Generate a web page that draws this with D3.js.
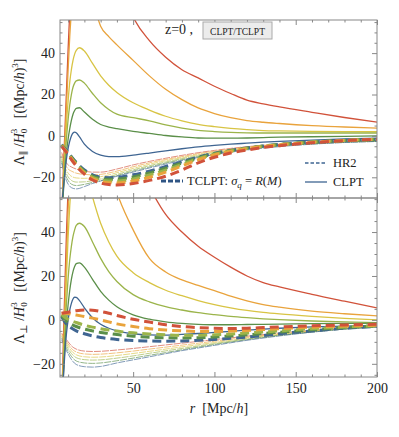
<!DOCTYPE html>
<html>
<head>
<meta charset="utf-8">
<script src="https://cdn.jsdelivr.net/npm/d3@7"></script>
<style>
  body { margin: 0; background: #fff; }
  text { font-family: "Liberation Serif", "DejaVu Serif", serif; fill: #222; }
</style>
</head>
<body>
<div id="chart"></div>
<script>
'use strict';

// mass bins, from lowest (red) to highest bias (blue)
const binColors = ["#d1523a", "#e9a33c", "#d8c444", "#9bb44a", "#5b8f49", "#3f6592"];
const tclptBins = [0, 1, 3, 4, 5];

// r grids [Mpc/h]
const rCLPT  = [5,6,7,8,9,10,11,12,13,14,15,17,20,25,30,35,40,50,60,70,80,90,100,110,120,130,140,160,180,200];
const rHR2   = [6,8,10,12,15,20,25,30,40,50,60,70,80,90,100,120,140,160,180,200];
const rTCLPT = [6,8,10,12,15,20,25,30,35,40,50,60,70,80,90,100,110,120,130,140,160,180,200];

// Lambda_parallel / H0^3, CLPT (solid)
const parCLPT = [
  [-60,-40,-18,2,22,42,60,76,90,101,110,120,126,122,110,94,80,57.5,46,38,32,28,24,20.5,17.3,15.5,14,11.4,8.9,6.7],
  [-60,-42,-22,-3,15,32,48,60,69,76,81,84,80,66,53,48,44,36.5,29,22.5,17.5,13.5,10.8,8.8,7.4,6.6,6,5,4.3,3.8],
  [-55,-42,-25,-8,6,17,26,32,36.5,39.5,41.3,42.6,41,35,29,24.5,21,16,12.5,9.5,7.3,5.6,4.5,3.6,3,2.6,2.4,2.2,2.1,2],
  [-50,-40,-26,-12,-1,8,15,20,23.5,25.5,26.6,27,25.5,20.5,16,12.8,10.5,8.8,7.3,5.3,3.8,2.7,2.1,1.7,1.5,1.4,1.4,1.4,1.4,1.4],
  [-45,-38,-28,-17,-8,-1.5,3.5,7.5,10.5,12.3,13.3,13.6,11.5,8,5.5,4.3,3.5,2.2,1.2,0.2,-0.5,-1,-1.1,-1.1,-1,-0.8,-0.6,-0.4,-0.2,0],
  [-40,-34,-26,-18,-11,-6,-2.5,0,1.4,1.8,1.5,-0.5,-4,-7.5,-9.3,-10,-10,-9.3,-8.3,-7.2,-6.2,-5.3,-4.6,-4,-3.5,-3,-2.6,-2,-1.5,-1.1]
];

// Lambda_parallel, HR2 (thin dashed)
const parHR2 = [
  [-8,-12,-14,-15,-16,-17,-17.5,-17.5,-16,-14,-12.3,-10.8,-9.4,-8.1,-7,-5.2,-4,-3.2,-2.6,-2.2],
  [-9,-13.5,-16,-17,-18,-18.6,-18.8,-18.6,-17,-14.9,-13,-11.4,-10,-8.6,-7.4,-5.5,-4.2,-3.3,-2.7,-2.3],
  [-10,-15,-18,-19.5,-20.3,-20.5,-20.2,-19.7,-17.8,-15.7,-13.7,-12,-10.5,-9.1,-7.8,-5.8,-4.5,-3.5,-2.8,-2.4],
  [-11,-16.5,-19.8,-21.5,-22.3,-22.2,-21.6,-20.8,-18.6,-16.4,-14.4,-12.6,-11,-9.6,-8.3,-6.1,-4.7,-3.7,-3,-2.5],
  [-12,-18,-21.5,-23.3,-24,-23.4,-22.5,-21.6,-19.2,-17,-15,-13.1,-11.5,-10,-8.7,-6.4,-4.9,-3.9,-3.1,-2.6],
  [-13,-19.5,-23.3,-25,-25.6,-24.5,-23,-21.8,-19.5,-17.5,-15.5,-13.6,-11.9,-10.4,-9.1,-6.8,-5.2,-4,-3.2,-2.7]
];

// Lambda_parallel, TCLPT sigma_q = R(M) (thick dashed)
const parTCLPT = [
  [-5,-7,-9,-11.5,-14.5,-18.5,-21.3,-22.8,-23.5,-23.7,-23,-21.5,-19.5,-16.5,-13,-10.3,-8.3,-6.8,-5.6,-4.7,-3.3,-2.3,-1.6],
  [-4.8,-6.8,-8.8,-11,-14,-18,-20.6,-22,-22.6,-22.7,-21.8,-20,-17.5,-14.5,-11.5,-9.2,-7.5,-6.2,-5.1,-4.3,-3.1,-2.2,-1.6],
  [-4.6,-6.6,-8.5,-10.7,-13.6,-17.5,-20,-21.3,-21.8,-21.8,-20.8,-18.9,-16.5,-13.8,-11,-8.9,-7.3,-6,-5,-4.2,-3,-2.2,-1.6],
  [-4.4,-6.4,-8.2,-10.3,-13.2,-17,-19.4,-20.6,-21,-20.9,-19.8,-17.9,-15.6,-13.1,-10.6,-8.6,-7.1,-5.9,-4.9,-4.1,-3,-2.2,-1.7],
  [-4.2,-6.2,-7.9,-10,-12.8,-16.5,-18.8,-19.9,-20.2,-20,-18.8,-17,-14.8,-12.5,-10.2,-8.4,-7,-5.8,-4.9,-4.1,-3,-2.2,-1.7]
];

// Lambda_perp / H0^3, CLPT (solid)
const perpCLPT = [
  [-70,-40,-12,15,40,60,78,95,108,118,126,135,140,135,122,108,96,76,60.5,48,40,33.5,28.5,24,20,17,15,11.6,8.5,5.5],
  [-70,-45,-20,5,28,50,68,82,92,99,104,108,106,95,82,70,58,41,28,21.8,18.2,15.7,13.3,10.8,8.7,7,5.8,4,2.8,1.8],
  [-65,-45,-22,0,20,38,52,62,69,73,75,75.5,70,56,44,35.5,29,21.5,17,13.5,11,8.8,7,5.5,4.3,3.4,2.7,1.6,0.7,0],
  [-60,-45,-25,-6,8,19,27.5,33.5,38,41,43,44,42.5,35.5,28,22,17.5,11.5,8.2,6,4.5,3.3,2.4,1.6,1,0.5,0.1,-0.5,-0.9,-1.2],
  [-55,-42,-27,-12,-1,7,13.5,18.5,22,24.3,25.6,26,24,18.5,13,9,6,2.3,0.3,-0.9,-1.6,-2,-2.2,-2.2,-2.1,-2,-1.9,-1.7,-1.6,-1.5],
  [-50,-40,-27,-15,-6,0,4.5,7.5,9.5,10.3,10.2,8.8,5.5,1,-2,-3.8,-5,-6.3,-6.8,-6.9,-6.6,-6.2,-5.7,-5.2,-4.7,-4.2,-3.8,-3.2,-2.8,-2.5]
];

// Lambda_perp, HR2
const perpHR2 = [
  [-6,-8,-10,-11.8,-13.3,-14.2,-14.4,-14.3,-13.7,-13,-12.2,-11.4,-10.6,-9.8,-9,-7.4,-6,-4.8,-3.8,-3],
  [-6.5,-8.8,-11,-13,-14.6,-15.5,-15.7,-15.6,-15,-14.2,-13.3,-12.4,-11.5,-10.6,-9.7,-7.9,-6.3,-5,-3.9,-3.1],
  [-7,-9.6,-12,-14.1,-15.9,-16.8,-17,-16.9,-16.2,-15.3,-14.3,-13.3,-12.3,-11.3,-10.3,-8.3,-6.6,-5.2,-4,-3.1],
  [-7.5,-10.4,-13.1,-15.3,-17.2,-18.1,-18.3,-18.2,-17.4,-16.4,-15.2,-14.1,-13,-11.9,-10.8,-8.7,-6.9,-5.4,-4.1,-3.2],
  [-8.2,-11.4,-14.3,-16.6,-18.7,-19.6,-19.8,-19.6,-18.6,-17.4,-16.1,-14.9,-13.6,-12.4,-11.2,-9,-7.1,-5.5,-4.2,-3.2],
  [-9,-12.5,-15.5,-18,-20.3,-21.3,-21.5,-21.2,-19.6,-18.2,-16.8,-15.4,-14,-12.8,-11.6,-9.3,-7.3,-5.6,-4.2,-3.2]
];

// Lambda_perp, TCLPT
const perpTCLPT = [
  [3,3.3,3.5,3.8,4.2,4.5,4.4,3.8,3,2,0.3,-1,-2.2,-3,-3.5,-3.8,-3.9,-3.8,-3.5,-3.2,-2.7,-2.3,-2],
  [3,3,2.9,2.6,2.2,1.5,0.8,0,-0.9,-1.8,-3,-4,-4.6,-5,-5.3,-5.3,-5.1,-4.8,-4.4,-4,-3.3,-2.8,-2.4],
  [2.5,1.2,0.3,-0.4,-1.2,-2.4,-3.3,-4,-4.6,-5.1,-5.9,-6.4,-6.8,-7,-7,-6.8,-6.4,-6,-5.5,-5,-4,-3.2,-2.6],
  [2,0,-1.2,-2,-3,-4.2,-5,-5.7,-6.2,-6.7,-7.4,-7.9,-8.1,-8.2,-8.1,-7.8,-7.3,-6.8,-6.2,-5.6,-4.5,-3.5,-2.8],
  [1.5,-1,-2.6,-3.7,-5,-6.3,-7.3,-8,-8.5,-8.9,-9.4,-9.6,-9.7,-9.6,-9.3,-8.9,-8.4,-7.8,-7.1,-6.3,-5,-3.8,-3]
];

// ticks
const xMajor = [50, 100, 150, 200];
const xMinor = [10,20,30,40,60,70,80,90,110,120,130,140,160,170,180,190];
const yMajor = [-20, 0, 20, 40];
const yMinor = [-25,-15,-10,-5,5,10,15,25,30,35,45,50,55];

// layout
var left = 60, right = 377, top1 = 20, mid = 198, bottom = 377;
var serif = "'Liberation Serif', 'DejaVu Serif', serif";

var svg = d3.select("#chart").append("svg")
    .attr("width", 399).attr("height", 437);

var x = d3.scaleLinear().domain([5, 200]).range([left, right]);
var yPar  = d3.scaleLinear().domain([-30, 56]).range([mid, top1]);
var yPerp = d3.scaleLinear().domain([-26, 55.5]).range([bottom, mid]);

function drawPanel(id, y, solid, hr2, tclpt, showX) {
    var g = svg.append("g");
    var y0 = y.range()[0], y1 = y.range()[1];

    g.append("clipPath").attr("id", id)
      .append("rect").attr("x", left).attr("y", y1)
      .attr("width", right - left).attr("height", y0 - y1);

    var curves = g.append("g").attr("clip-path", "url(#" + id + ")");

    function line(rs) {
        return d3.line()
            .x(function(d, i) { return x(rs[i]); })
            .y(function(d) { return y(d); })
            .curve(d3.curveMonotoneX);
    }

    // HR2 thin lines
    hr2.forEach(function(vals, i) {
        curves.append("path").datum(vals)
            .attr("d", line(rHR2))
            .attr("fill", "none")
            .attr("stroke", binColors[i])
            .attr("stroke-opacity", 0.65)
            .attr("stroke-width", 1)
            .attr("stroke-dasharray", "7,1");
    });

    // CLPT solid
    solid.forEach(function(vals, i) {
        curves.append("path").datum(vals)
            .attr("d", line(rCLPT))
            .attr("fill", "none")
            .attr("stroke", binColors[i])
            .attr("stroke-width", 1.3);
    });

    // TCLPT thick dashed, red drawn last
    for (var k = tclpt.length - 1; k >= 0; k--) {
        curves.append("path").datum(tclpt[k])
            .attr("d", line(rTCLPT))
            .attr("fill", "none")
            .attr("stroke", binColors[tclptBins[k]])
            .attr("stroke-width", 3)
            .attr("stroke-dasharray", "9,5");
    }

    // frame and inward ticks
    var axes = g.append("g").attr("class", "axes");
    axes.append("g").attr("transform", "translate(" + left + ",0)")
        .call(d3.axisLeft(y).tickValues(yMajor).tickSize(-5).tickPadding(5));
    axes.append("g").attr("transform", "translate(" + left + ",0)")
        .call(d3.axisLeft(y).tickValues(yMinor).tickSize(-2.5).tickFormat(""));
    axes.append("g").attr("transform", "translate(" + right + ",0)")
        .call(d3.axisRight(y).tickValues(yMajor).tickSize(-5).tickFormat(""));
    axes.append("g").attr("transform", "translate(" + right + ",0)")
        .call(d3.axisRight(y).tickValues(yMinor).tickSize(-2.5).tickFormat(""));

    axes.append("g").attr("transform", "translate(0," + y0 + ")")
        .call(d3.axisBottom(x).tickValues(xMajor).tickSize(-5).tickPadding(6)
              .tickFormat(showX ? d3.format("d") : ""));
    axes.append("g").attr("transform", "translate(0," + y0 + ")")
        .call(d3.axisBottom(x).tickValues(xMinor).tickSize(-2.5).tickFormat(""));
    axes.append("g").attr("transform", "translate(0," + y1 + ")")
        .call(d3.axisTop(x).tickValues(xMajor).tickSize(-5).tickFormat(""));
    axes.append("g").attr("transform", "translate(0," + y1 + ")")
        .call(d3.axisTop(x).tickValues(xMinor).tickSize(-2.5).tickFormat(""));

    axes.selectAll(".domain").remove();
    axes.selectAll("line").attr("stroke", "#888");
    axes.selectAll("g").attr("font-family", null);
    axes.selectAll("text").attr("font-size", 14)
        .style("font-family", serif).attr("fill", "#222");

    g.append("rect").attr("x", left).attr("y", y1)
        .attr("width", right - left).attr("height", y0 - y1)
        .attr("fill", "none").attr("stroke", "#888").attr("stroke-width", 1);
    return g;
}

drawPanel("clipPar", yPar, parCLPT, parHR2, parTCLPT, false);
drawPanel("clipPerp", yPerp, perpCLPT, perpHR2, perpTCLPT, true);

// y titles
function yTitle(cx, cy, sym) {
    var t = svg.append("text")
        .attr("transform", "translate(" + cx + "," + cy + ") rotate(-90)")
        .attr("text-anchor", "middle").attr("font-size", 14)
        .attr("xml:space", "preserve");
    t.append("tspan").text("Λ");
    t.append("tspan").attr("font-size", 10).attr("dy", 3).text(sym);
    t.append("tspan").attr("dy", -3).text(" /");
    t.append("tspan").attr("font-style", "italic").text("H");
    t.append("tspan").attr("font-size", 9).attr("dy", 3).text("0");
    t.append("tspan").attr("font-size", 9).attr("dx", -4.5).attr("dy", -10).text("3");
    t.append("tspan").attr("dy", 7).text("   [(Mpc/");
    t.append("tspan").attr("font-style", "italic").text("h");
    t.append("tspan").text(")");
    t.append("tspan").attr("font-size", 9).attr("dy", -6).text("3");
    t.append("tspan").attr("dy", 6).text("]");
}
yTitle(24, 112, "∥");
yTitle(24, 288, "⊥");

// x title
var xt = svg.append("text").attr("x", 219).attr("y", 413)
    .attr("text-anchor", "middle").attr("font-size", 14);
xt.append("tspan").attr("font-style", "italic").text("r");
xt.append("tspan").attr("dx", 7).text("[Mpc/");
xt.append("tspan").attr("font-style", "italic").text("h");
xt.append("tspan").text("]");

// annotation
svg.append("text").attr("x", 165).attr("y", 34).attr("font-size", 14).text("z=0 ,");
svg.append("rect").attr("x", 203).attr("y", 22).attr("width", 69).attr("height", 17)
    .attr("fill", "#ececec").attr("stroke", "#aaa");
svg.append("text").attr("x", 237.5).attr("y", 34.5).attr("text-anchor", "middle")
    .attr("font-size", 9.5).text("CLPT/TCLPT");

// legend
var legColor = "#3f6592";
svg.append("line").attr("x1", 305).attr("x2", 327).attr("y1", 163).attr("y2", 163)
    .attr("stroke", legColor).attr("stroke-width", 1.3).attr("stroke-dasharray", "3.5,2");
svg.append("text").attr("x", 333).attr("y", 167).attr("font-size", 12.5).text("HR2");
svg.append("line").attr("x1", 305).attr("x2", 327).attr("y1", 182).attr("y2", 182)
    .attr("stroke", legColor).attr("stroke-width", 1.3);
svg.append("text").attr("x", 333).attr("y", 186).attr("font-size", 12.5).text("CLPT");

svg.append("line").attr("x1", 161).attr("x2", 183).attr("y1", 181).attr("y2", 181)
    .attr("stroke", "#2f5584").attr("stroke-width", 3).attr("stroke-dasharray", "5,2");
var lt = svg.append("text").attr("x", 187).attr("y", 185).attr("font-size", 12.5);
lt.append("tspan").text("TCLPT: ");
lt.append("tspan").attr("font-style", "italic").text("σ");
lt.append("tspan").attr("font-style", "italic").attr("font-size", 9).attr("dy", 3).text("q");
lt.append("tspan").attr("dy", -3).text(" = ");
lt.append("tspan").attr("font-style", "italic").text("R");
lt.append("tspan").text("(");
lt.append("tspan").attr("font-style", "italic").text("M");
lt.append("tspan").text(")");
</script>
</body>
</html>
